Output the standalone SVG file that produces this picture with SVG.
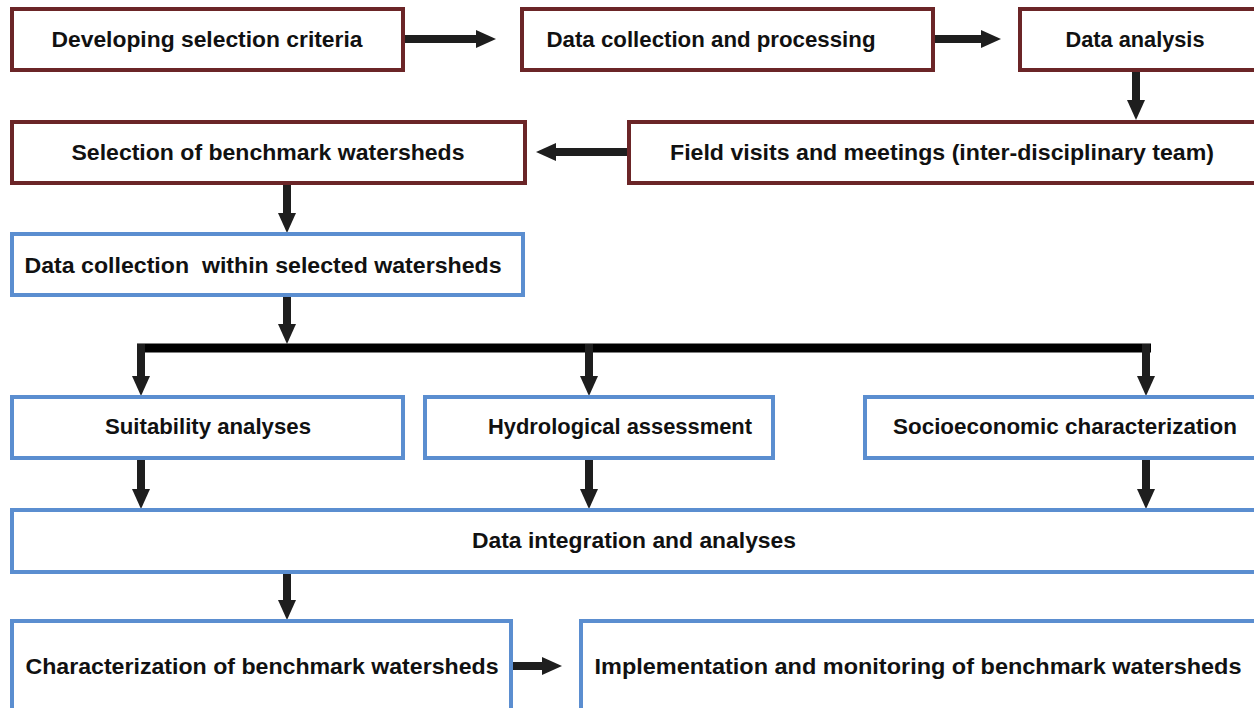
<svg xmlns="http://www.w3.org/2000/svg" width="1254" height="708" viewBox="0 0 1254 708">
<style>
.m{fill:#fff;stroke:#6b2527;stroke-width:4}
.b{fill:#fff;stroke:#5b8ed0;stroke-width:4}
text{font-family:"Liberation Sans",Arial,sans-serif;font-weight:bold;font-size:22px;fill:#111;text-anchor:middle}
.a{stroke:#1e1e1e;stroke-width:8;fill:none;marker-end:url(#h)}
</style>
<defs>
<marker id="h" markerUnits="userSpaceOnUse" markerWidth="20" markerHeight="18" refX="1" refY="9" orient="auto" viewBox="0 0 20 18">
<path d="M0,0 L20,9 L0,18 z" fill="#1e1e1e"/>
</marker>
</defs>
<g id="connectors">
<line class="a" x1="404" y1="39" x2="477" y2="39"/>
<line class="a" x1="934" y1="39" x2="982" y2="39"/>
<line class="a" x1="1136" y1="70" x2="1136" y2="101"/>
<line class="a" x1="629" y1="152" x2="555" y2="152"/>
<line class="a" x1="287" y1="183" x2="287" y2="214"/>
<line class="a" x1="287" y1="295" x2="287" y2="325"/>
<line x1="137" y1="348" x2="1151" y2="348" stroke="#000" stroke-width="9"/>
<line class="a" x1="141" y1="344" x2="141" y2="377"/>
<line class="a" x1="589" y1="344" x2="589" y2="377"/>
<line class="a" x1="1146" y1="344" x2="1146" y2="377"/>
<line class="a" x1="141" y1="458" x2="141" y2="490"/>
<line class="a" x1="589" y1="458" x2="589" y2="490"/>
<line class="a" x1="1146" y1="458" x2="1146" y2="490"/>
<line class="a" x1="287" y1="572" x2="287" y2="601"/>
<line class="a" x1="511" y1="666" x2="543" y2="666"/>
</g>
<g id="n1"><rect class="m" x="12" y="9" width="391" height="61"/><text x="207" y="47" textLength="311" lengthAdjust="spacingAndGlyphs">Developing selection criteria</text></g>
<g id="n2"><rect class="m" x="522" y="9" width="411" height="61"/><text x="711" y="47" textLength="329" lengthAdjust="spacingAndGlyphs">Data collection and processing</text></g>
<g id="n3"><rect class="m" x="1020" y="9" width="236" height="61"/><text x="1135" y="47" textLength="139" lengthAdjust="spacingAndGlyphs">Data analysis</text></g>
<g id="n4"><rect class="m" x="629" y="122" width="627" height="61"/><text x="942" y="160" textLength="544" lengthAdjust="spacingAndGlyphs">Field visits and meetings (inter-disciplinary team)</text></g>
<g id="n5"><rect class="m" x="12" y="122" width="513" height="61"/><text x="268" y="160" textLength="393" lengthAdjust="spacingAndGlyphs">Selection of benchmark watersheds</text></g>
<g id="n6"><rect class="b" x="12" y="234" width="511" height="61"/><text x="263" y="273" textLength="477" lengthAdjust="spacingAndGlyphs" style="white-space:pre">Data collection  within selected watersheds</text></g>
<g id="n7"><rect class="b" x="12" y="397" width="391" height="61"/><text x="208" y="434" textLength="206" lengthAdjust="spacingAndGlyphs">Suitability analyses</text></g>
<g id="n8"><rect class="b" x="425" y="397" width="348" height="61"/><text x="620" y="434" textLength="264" lengthAdjust="spacingAndGlyphs">Hydrological assessment</text></g>
<g id="n9"><rect class="b" x="865" y="397" width="391" height="61"/><text x="1065" y="434" textLength="344" lengthAdjust="spacingAndGlyphs">Socioeconomic characterization</text></g>
<g id="n10"><rect class="b" x="12" y="510" width="1244" height="62"/><text x="634" y="548" textLength="324" lengthAdjust="spacingAndGlyphs">Data integration and analyses</text></g>
<g id="n11"><rect class="b" x="12" y="621" width="499" height="100"/><text x="262" y="674" textLength="473" lengthAdjust="spacingAndGlyphs">Characterization of benchmark watersheds</text></g>
<g id="n12"><rect class="b" x="581" y="621" width="680" height="100"/><text x="918" y="674" textLength="647" lengthAdjust="spacingAndGlyphs">Implementation and monitoring of benchmark watersheds</text></g>
</svg>
